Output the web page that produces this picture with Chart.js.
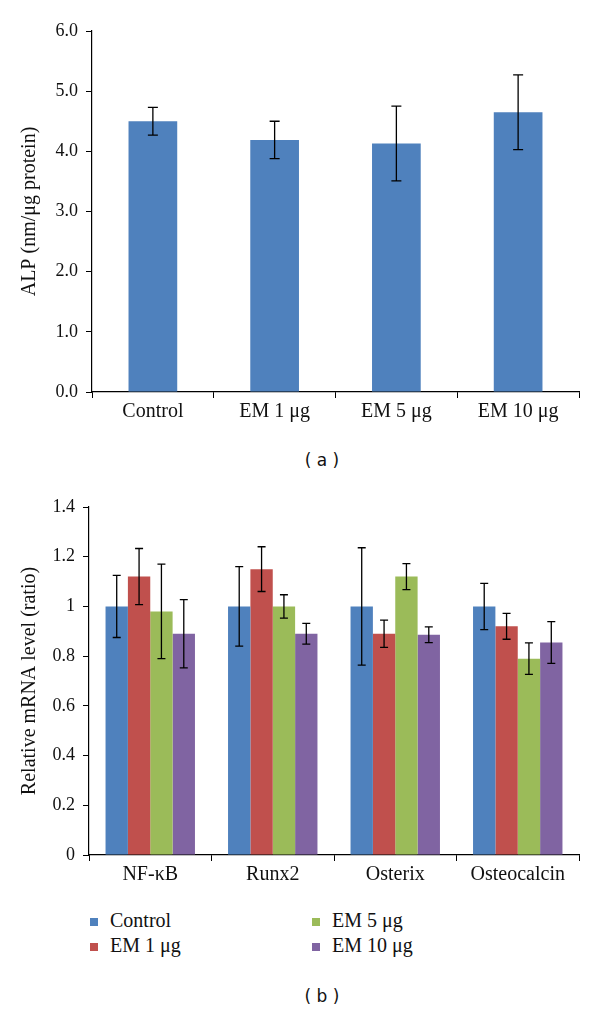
<!DOCTYPE html>
<html>
<head>
<meta charset="utf-8">
<script src="https://cdn.jsdelivr.net/npm/chart.js@4"></script>
<style>
  body { margin: 0; background: #fff; }
  #page { position: relative; width: 600px; height: 1011px; overflow: hidden; }
  canvas { position: absolute; left: 0; }
  #alpChart { top: 0; }
  #mrnaChart { top: 440px; }
  .caption { position: absolute; left: 0; width: 644px; text-align: center; font: 17px "DejaVu Sans", sans-serif; color: #111; }
  #legend { position: absolute; top: 908px; left: 90px; font: 20px "Liberation Serif", serif; color: #111; }
  .item { position: absolute; white-space: nowrap; line-height: 25px; }
  .item span.box { display: inline-block; width: 8px; height: 8px; margin-right: 12px; vertical-align: 1px; }
</style>
</head>
<body>
<div id="page">
  <canvas id="alpChart" width="600" height="440"></canvas>
  <div class="caption" style="top: 450px;">( a )</div>
  <canvas id="mrnaChart" width="600" height="460"></canvas>
  <div id="legend"></div>
  <div class="caption" style="top: 986px;">( b )</div>
</div>
<script>
// (a) ALP activity
const alpLabels = ['Control', 'EM 1 μg', 'EM 5 μg', 'EM 10 μg'];
const alpValues = [4.50, 4.19, 4.13, 4.65];
const alpErrors = [0.23, 0.31, 0.62, 0.62];
const alpTicks = ['0.0', '1.0', '2.0', '3.0', '4.0', '5.0', '6.0'];

// (b) relative mRNA levels
const genes = ['NF-κB', 'Runx2', 'Osterix', 'Osteocalcin'];
const groups = ['Control', 'EM 1 μg', 'EM 5 μg', 'EM 10 μg'];
const controlValues = [1.00, 1.00, 1.00, 1.00];
const controlErrors = [0.125, 0.16, 0.236, 0.093];
const em1Values = [1.12, 1.15, 0.89, 0.92];
const em1Errors = [0.113, 0.09, 0.055, 0.052];
const em5Values = [0.98, 1.00, 1.12, 0.79];
const em5Errors = [0.19, 0.047, 0.052, 0.063];
const em10Values = [0.89, 0.89, 0.886, 0.855];
const em10Errors = [0.137, 0.042, 0.032, 0.084];
const mrnaTicks = ['0', '0.2', '0.4', '0.6', '0.8', '1', '1.2', '1.4'];

const colors = ['#4F81BD', '#C0504D', '#9BBB59', '#8064A2'];
const serif = '"Liberation Serif", "Times New Roman", serif';

// draws error bars from each dataset's "errors" array
const errorBars = {
  id: 'errorBars',
  afterDatasetsDraw(chart, args, opts) {
    const ctx = chart.ctx;
    const y = chart.scales.y;
    ctx.save();
    ctx.strokeStyle = '#000';
    ctx.lineWidth = 1.3;
    chart.data.datasets.forEach((ds, di) => {
      const meta = chart.getDatasetMeta(di);
      meta.data.forEach((bar, i) => {
        const v = ds.data[i], e = ds.errors[i];
        const top = y.getPixelForValue(v + e);
        const bot = y.getPixelForValue(v - e);
        const half = opts.cap / 2;
        ctx.beginPath();
        ctx.moveTo(bar.x, top); ctx.lineTo(bar.x, bot);
        ctx.moveTo(bar.x - half, top); ctx.lineTo(bar.x + half, top);
        ctx.moveTo(bar.x - half, bot); ctx.lineTo(bar.x + half, bot);
        ctx.stroke();
      });
    });
    ctx.restore();
  }
};

function axes(max, step, tickLabels, title, yWidth, xHeight) {
  return {
    x: {
      grid: { drawOnChartArea: false, drawTicks: true, tickLength: 6, color: '#000' },
      border: { display: true, color: '#000', width: 1.2 },
      ticks: { color: '#111', font: { family: serif, size: 20 }, padding: 2 },
      afterFit(s) { s.height = xHeight; }
    },
    y: {
      min: 0, max: max,
      grid: { drawOnChartArea: false, drawTicks: true, tickLength: 6, color: '#000' },
      border: { display: true, color: '#000', width: 1.2 },
      ticks: {
        stepSize: step, color: '#111', padding: 8,
        font: { family: serif, size: 18 },
        callback: (v, i) => tickLabels[i]
      },
      title: { display: true, text: title, color: '#111', font: { family: serif, size: 20 }, padding: { top: 18, bottom: 0 } },
      afterFit(s) { s.width = yWidth; }
    }
  };
}

new Chart(document.getElementById('alpChart'), {
  type: 'bar',
  data: {
    labels: alpLabels,
    datasets: [{ data: alpValues, errors: alpErrors, backgroundColor: colors[0],
      categoryPercentage: 0.4, barPercentage: 1 }]
  },
  options: {
    responsive: false, animation: false, devicePixelRatio: 1,
    layout: { padding: { top: 31, right: 21, left: 0, bottom: 0 } },
    plugins: { legend: { display: false }, tooltip: { enabled: false }, errorBars: { cap: 10 } },
    scales: axes(6, 1, alpTicks, 'ALP (nm/μg protein)', 92, 48)
  },
  plugins: [errorBars]
});

const mrnaSeries = [
  [controlValues, controlErrors],
  [em1Values, em1Errors],
  [em5Values, em5Errors],
  [em10Values, em10Errors]
];

new Chart(document.getElementById('mrnaChart'), {
  type: 'bar',
  data: {
    labels: genes,
    datasets: mrnaSeries.map((s, i) => ({
      label: groups[i], data: s[0], errors: s[1], backgroundColor: colors[i],
      categoryPercentage: 0.73, barPercentage: 1
    }))
  },
  options: {
    responsive: false, animation: false, devicePixelRatio: 1,
    layout: { padding: { top: 67, right: 21, left: 0, bottom: 0 } },
    plugins: { legend: { display: false }, tooltip: { enabled: false }, errorBars: { cap: 8 } },
    scales: axes(1.4, 0.2, mrnaTicks, 'Relative mRNA level (ratio)', 89, 45)
  },
  plugins: [errorBars]
});

// legend in two columns
const legend = document.getElementById('legend');
groups.forEach((g, i) => {
  const d = document.createElement('div');
  d.className = 'item';
  d.style.left = (i < 2 ? 0 : 222) + 'px';
  d.style.top = (i % 2) * 25 + 'px';
  d.innerHTML = '<span class="box" style="background:' + colors[i] + '"></span>' + g;
  legend.appendChild(d);
});
</script>
</body>
</html>
